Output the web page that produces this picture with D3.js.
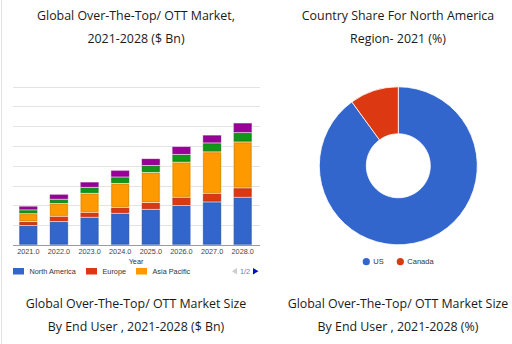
<!DOCTYPE html>
<html><head><meta charset="utf-8">
<script src="https://cdn.jsdelivr.net/npm/d3@7"></script>
<style>
html,body{margin:0;padding:0;background:#fff;}
svg{display:block;}
.title{font-family:"Open Sans",sans-serif;fill:#1a1a1a;}
.small{font-family:"Liberation Sans",Arial,sans-serif;}
</style></head>
<body>
<svg id="c" width="512" height="344"></svg>
<script>
// ---- data ----
const years = ["2021.0","2022.0","2023.0","2024.0","2025.0","2026.0","2027.0","2028.0"];
const seriesNames = ["North America","Europe","Asia Pacific","Latin America","Middle East & Africa"];
const seriesColors = ["#3366cc","#dc3912","#ff9900","#109618","#990099"];
const northAmerica = [49, 59, 70, 80, 90, 99.5, 108.5, 120.5];
const europe       = [10, 13.5, 12.5, 15, 17, 21, 22, 23.5];
const asiaPacific  = [20, 32, 48, 60.5, 76, 88.5, 104.5, 116];
const latinAmerica = [9.5, 11, 15, 16, 17.5, 19.5, 22.5, 23.5];
const mea          = [9.5, 12.5, 13.5, 17, 17.5, 20, 20, 24.5];
const yTicks = [0,50,100,150,200,250,300,350,400];
const legendShown = ["North America","Europe","Asia Pacific"];

const donutLabels = ["US","Canada"];
const donutValues = [90, 10];
const donutColors = ["#3366cc","#dc3912"];

const titles = [
  {x:136, y:20, text:"Global Over-The-Top/ OTT Market,"},
  {x:136, y:43, text:"2021-2028 ($ Bn)"},
  {x:398, y:20, text:"Country Share For North America"},
  {x:398, y:43, text:"Region- 2021 (%)"},
  {x:136, y:308, text:"Global Over-The-Top/ OTT Market Size"},
  {x:136, y:331, text:"By End User , 2021-2028 ($ Bn)"},
  {x:398, y:308, text:"Global Over-The-Top/ OTT Market Size"},
  {x:398, y:331, text:"By End User , 2021-2028 (%)"}
];

const svg = d3.select("#c");
// left card border
svg.append("line").attr("x1",1.5).attr("x2",1.5).attr("y1",0).attr("y2",344)
  .attr("stroke","#e2e2e2").attr("stroke-width",1);

svg.selectAll("text.title").data(titles).join("text").attr("class","title")
  .attr("x",d=>d.x).attr("y",d=>d.y).attr("text-anchor","middle")
  .attr("font-size",12.4).text(d=>d.text);

// ---- stacked bar chart ----
const x = d3.scaleBand().domain(years).range([13,258]).paddingInner(0.39).paddingOuter(0.195);
const y = d3.scaleLinear().domain([0,400]).range([245,86.5]);

const g = svg.append("g");
g.selectAll("line.grid").data(yTicks.slice(1)).join("line")
  .attr("x1",13).attr("x2",260)
  .attr("y1",d=>Math.round(y(d))+0.5).attr("y2",d=>Math.round(y(d))+0.5)
  .attr("stroke","#e3e3e3");

const rows = years.map((yr,i)=>({year:yr, v:[northAmerica[i],europe[i],asiaPacific[i],latinAmerica[i],mea[i]]}));
const stack = d3.stack().keys([0,1,2,3,4]).value((d,k)=>d.v[k])(rows);

stack.forEach((layer,si)=>{
  const col = seriesColors[si];
  const lg = g.append("g");
  lg.selectAll("rect.halo").data(layer).join("rect")
    .attr("x",d=>x(d.data.year)).attr("width",x.bandwidth())
    .attr("y",d=>y(d[1])).attr("height",d=>y(d[0])-y(d[1]))
    .attr("fill",d3.interpolateRgb(col,"#ffffff")(0.55));
  lg.selectAll("rect.bar").data(layer).join("rect")
    .attr("x",d=>x(d.data.year)+1).attr("width",x.bandwidth()-2)
    .attr("y",d=>y(d[1])+1).attr("height",d=>Math.max(0,y(d[0])-y(d[1])-2))
    .attr("fill",col).attr("stroke",d3.color(col).darker(0.4)).attr("stroke-width",0.8);
});

g.append("line").attr("x1",13).attr("x2",260).attr("y1",245.5).attr("y2",245.5)
  .attr("stroke","#9a9a9a");

const xAxis = d3.axisBottom(x).tickSize(0).tickPadding(4);
const ax = g.append("g").attr("transform","translate(0,245)").call(xAxis);
ax.select(".domain").remove();
ax.selectAll("text").attr("class","small").attr("font-size",7.3).attr("fill","#444")
  .attr("dy","0.71em").attr("y",4);

g.append("text").attr("class","small").attr("x",136).attr("y",264).attr("text-anchor","middle")
  .attr("font-size",7.3).attr("fill","#333").text("Year");

// legend
const legX = [13, 86, 136];
legendShown.forEach((n,i)=>{
  g.append("rect").attr("x",legX[i]).attr("y",268).attr("width",11).attr("height",6.5)
    .attr("fill",seriesColors[i]);
  g.append("text").attr("class","small").attr("x",legX[i]+16.5).attr("y",273.7)
    .attr("font-size",7.3).attr("fill","#333").text(n);
});
g.append("path").attr("d","M237,268L232,271.2L237,274.4Z").attr("fill","#cccccc");
g.append("text").attr("class","small").attr("x",245).attr("y",273.7).attr("text-anchor","middle")
  .attr("font-size",7.3).attr("fill","#6f78c8").text("1/2");
g.append("path").attr("d","M253,268L258.5,271.2L253,274.4Z").attr("fill","#0011cc");

// ---- donut ----
const cx = 398.3, cy = 165.8, R = 79, r0 = 32;
const pie = d3.pie().sort(null).value(d=>d)(donutValues);
const arc = d3.arc().innerRadius(r0).outerRadius(R);
svg.append("g").attr("transform",`translate(${cx},${cy})`)
  .selectAll("path").data(pie).join("path")
  .attr("d",arc).attr("fill",(d,i)=>donutColors[i])
  .attr("stroke","#fff").attr("stroke-width",0.8);

const dlx = [366.3, 400.3];
donutLabels.forEach((n,i)=>{
  svg.append("circle").attr("cx",dlx[i]).attr("cy",261.7).attr("r",3.6).attr("fill",donutColors[i]);
  svg.append("text").attr("class","small").attr("x",dlx[i]+7).attr("y",264.4)
    .attr("font-size",7.5).attr("fill","#333").text(n);
});
</script>
</body></html>
